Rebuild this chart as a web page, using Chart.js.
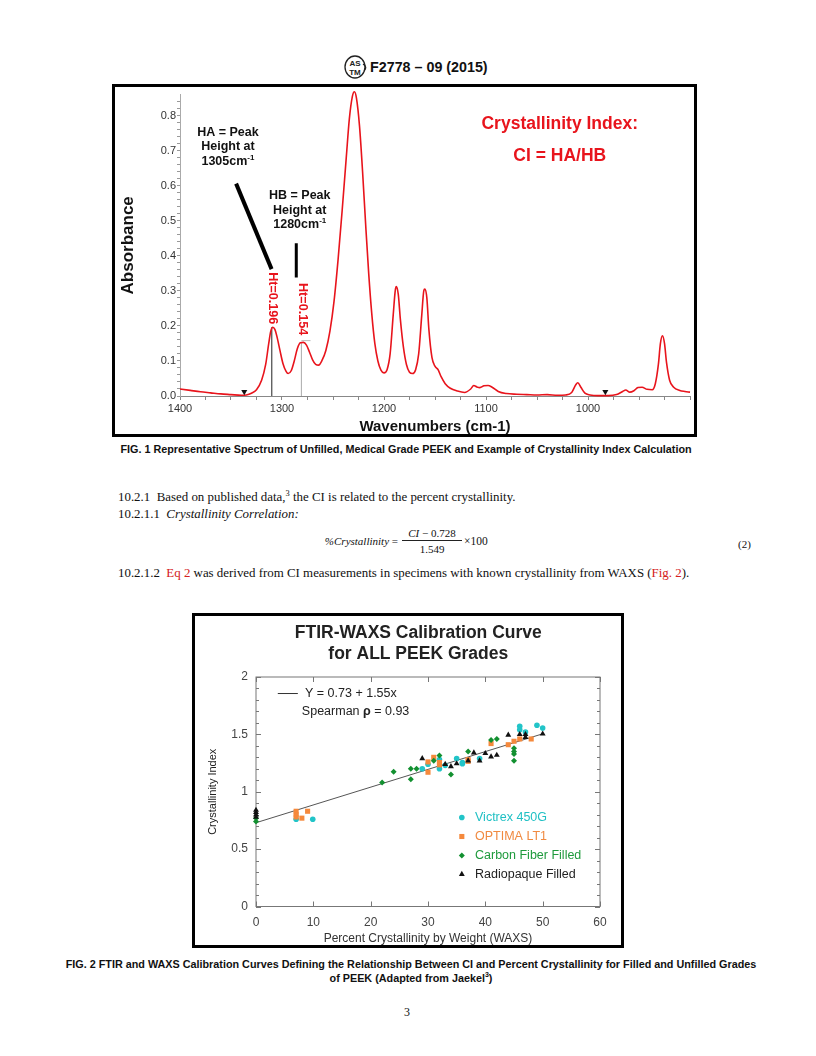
<!DOCTYPE html>
<html>
<head>
<meta charset="utf-8">
<script src="https://cdn.jsdelivr.net/npm/chart.js@4.4.1/dist/chart.umd.min.js"></script>
<style>
body { margin: 0; background: #fff; }
#page { position: relative; width: 816px; height: 1056px; overflow: hidden; background: #fff;
        font-family: "Liberation Serif", "Times New Roman", serif; color: #111; }
.t { position: absolute; white-space: nowrap; line-height: 16px; }
.sans { font-family: "Liberation Sans", Arial, sans-serif; }
.cap { font-family: "Liberation Sans", Arial, sans-serif; font-weight: bold; font-size: 10.8px; text-align: center; }
.frame { position: absolute; border: 3px solid #000; }
.frame canvas { display: block; }
.red { color: #d42020; }
sup { font-size: 65%; line-height: 0; }
</style>
</head>
<body>
<div id="page">
  <svg class="t" style="left:343px;top:55px" width="26" height="24" viewBox="0 0 26 24">
    <ellipse cx="12" cy="12" rx="10" ry="11" fill="none" stroke="#222" stroke-width="1.3"/>
    <text x="12" y="11" font-family="Liberation Sans" font-weight="bold" font-size="8" text-anchor="middle" fill="#222">AS</text>
    <text x="12" y="20" font-family="Liberation Sans" font-weight="bold" font-size="8" text-anchor="middle" fill="#222">TM</text>
    <path d="M20 9 Q25 12 21 16" fill="none" stroke="#222" stroke-width="1.2"/>
  </svg>
  <div class="t sans" style="left:370px;top:59px;font-weight:bold;font-size:14.3px;">F2778 – 09 (2015)</div>

  <div class="frame" style="left:112px;top:84px;width:579px;height:347px;">
    <canvas id="spectrum" width="579" height="347"></canvas>
  </div>
  <div class="t cap" style="left:0;width:812px;top:441px;">FIG. 1 Representative Spectrum of Unfilled, Medical Grade PEEK and Example of Crystallinity Index Calculation</div>

  <div class="t" style="left:118px;top:489px;font-size:12.9px;">10.2.1&nbsp;&nbsp;Based on published data,<sup>3</sup> the CI is related to the percent crystallinity.</div>
  <div class="t" style="left:118px;top:506px;font-size:12.9px;">10.2.1.1&nbsp;&nbsp;<i>Crystallinity Correlation:</i></div>
  <div class="t" style="left:300px;width:98px;text-align:right;top:533px;font-size:11px;"><i>%Crystallinity</i> =</div>
  <div class="t" style="left:402px;width:60px;text-align:center;top:525px;font-size:11px;"><i>CI</i> − 0.728</div>
  <div style="position:absolute;left:402px;top:540px;width:60px;height:0;border-top:1px solid #222;"></div>
  <div class="t" style="left:402px;width:60px;text-align:center;top:541px;font-size:11px;">1.549</div>
  <div class="t" style="left:464px;top:533px;font-size:11.5px;">×100</div>
  <div class="t" style="left:738px;top:536px;font-size:11px;">(2)</div>
  <div class="t" style="left:118px;top:565px;font-size:12.9px;">10.2.1.2&nbsp;&nbsp;<span class="red">Eq 2</span> was derived from CI measurements in specimens with known crystallinity from WAXS (<span class="red">Fig. 2</span>).</div>

  <div class="frame" style="left:192px;top:613px;width:426px;height:329px;">
    <canvas id="calib" width="426" height="329"></canvas>
  </div>
  <div class="t cap" style="left:0;width:822px;top:957px;line-height:14px;">FIG. 2 FTIR and WAXS Calibration Curves Defining the Relationship Between CI and Percent Crystallinity for Filled and Unfilled Grades<br>of PEEK (Adapted from Jaekel<sup>3</sup>)</div>
  <div class="t" style="left:404px;top:1004px;font-size:12px;">3</div>
</div>

<script>
// ---------- Fig. 1: FTIR spectrum ----------
const wavenumbers = [
  1400, 1390, 1380, 1370, 1360, 1350, 1340, 1335, 1330, 1325, 1320, 1316, 1313, 1311, 1309, 1307, 1305,
  1302, 1299, 1296, 1294, 1291, 1288, 1285, 1282, 1279, 1276, 1273, 1270, 1267, 1264, 1261, 1257, 1253,
  1249, 1245, 1241, 1237, 1234, 1231, 1229, 1227, 1224, 1221, 1218, 1215, 1212, 1209, 1206, 1203, 1200,
  1197, 1194, 1191, 1189, 1188, 1186, 1184, 1181, 1178, 1175, 1172, 1169, 1166, 1163, 1161, 1160, 1158,
  1156, 1153, 1150, 1147, 1144, 1140, 1135, 1128, 1121, 1115, 1112, 1109, 1106, 1102, 1098, 1094, 1088,
  1080, 1070, 1060, 1050, 1040, 1030, 1022, 1016, 1012, 1010, 1007, 1003, 998, 990, 980, 972, 966, 963,
  959, 955, 951, 947, 942, 937, 934, 931, 929, 927, 925, 923, 920, 916, 910, 905, 900
];
const absorbance = [
  0.020, 0.016, 0.012, 0.009, 0.006, 0.004, 0.002, 0.003, 0.008, 0.018, 0.045, 0.090, 0.150, 0.185, 0.196, 0.190, 0.170,
  0.130, 0.092, 0.070, 0.064, 0.072, 0.100, 0.135, 0.152, 0.153, 0.145, 0.125, 0.103, 0.090, 0.088, 0.100, 0.130, 0.185,
  0.270, 0.390, 0.530, 0.680, 0.790, 0.855, 0.868, 0.850, 0.770, 0.640, 0.490, 0.350, 0.235, 0.150, 0.100, 0.074, 0.066,
  0.075, 0.120, 0.230, 0.300, 0.312, 0.290, 0.220, 0.140, 0.090, 0.068, 0.064, 0.075, 0.120, 0.230, 0.300, 0.305, 0.280,
  0.190, 0.110, 0.085, 0.075, 0.055, 0.035, 0.022, 0.014, 0.010, 0.020, 0.030, 0.026, 0.024, 0.029, 0.030, 0.025, 0.013,
  0.007, 0.005, 0.004, 0.003, 0.004, 0.002, 0.003, 0.010, 0.032, 0.038, 0.025, 0.008, 0.003, 0.001, 0.001, 0.004, 0.013, 0.017,
  0.011, 0.015, 0.024, 0.025, 0.019, 0.018, 0.035, 0.090, 0.150, 0.172, 0.150, 0.095, 0.045, 0.025, 0.016, 0.013, 0.011
];
const baselineMarkWn = [1337, 983];
const baselineMarkAbs = [0.012, 0.012];
const haPeak = { wn: 1310, abs: 0.196 };
const hbPeak = { wn: 1281, abs: 0.154 };
const xTickLabels1 = [1400, 1300, 1200, 1100, 1000];
const yTickLabels1 = [0, 0.1, 0.2, 0.3, 0.4, 0.5, 0.6, 0.7, 0.8];

// annotation anchors, in data units
const haPointer = [{ x: 1345, y: 0.606 }, { x: 1310.2, y: 0.362 }];
const hbPointer = [{ x: 1286, y: 0.436 }, { x: 1286, y: 0.338 }];
const haText = { x: 1353, y: [0.753, 0.711, 0.669], lines: ['HA = Peak', 'Height at', '1305cm'] };
const hbText = { x: 1282.6, y: [0.573, 0.530, 0.488], lines: ['HB = Peak', 'Height at', '1280cm'] };
const htLabels = [
  { x: 1309.2, y: 0.279, text: 'Ht=0.196' },
  { x: 1280.2, y: 0.248, text: 'Ht=0.154' }
];
const ciText = { x: 1027.7, y: [0.776, 0.685], lines: ['Crystallinity Index:', 'CI = HA/HB'] };

const RED = '#e8141c';
const SANS = '"Liberation Sans", Arial, sans-serif';

const spectrumNotes = {
  id: 'spectrumNotes',
  afterDatasetsDraw(chart) {
    const { ctx, scales: { x, y } } = chart;
    const px = v => x.getPixelForValue(v), py = v => y.getPixelForValue(v);
    ctx.save();
    ctx.textBaseline = 'middle';

    // black labels with a superscript on the last line
    [haText, hbText].forEach(block => {
      block.lines.forEach((line, i) => {
        ctx.font = 'bold 12.5px ' + SANS;
        ctx.fillStyle = '#111';
        if (i === 2) {
          const w = ctx.measureText(line).width;
          ctx.font = 'bold 8px ' + SANS;
          const ws = ctx.measureText('-1').width;
          const left = px(block.x) - (w + ws) / 2;
          ctx.textAlign = 'left';
          ctx.font = 'bold 12.5px ' + SANS;
          ctx.fillText(line, left, py(block.y[i]));
          ctx.font = 'bold 8px ' + SANS;
          ctx.fillText('-1', left + w, py(block.y[i]) - 4);
        } else {
          ctx.textAlign = 'center';
          ctx.fillText(line, px(block.x), py(block.y[i]));
        }
      });
    });

    // rotated red peak heights
    ctx.font = 'bold 12.6px ' + SANS;
    ctx.fillStyle = RED;
    ctx.textAlign = 'center';
    htLabels.forEach(l => {
      ctx.save();
      ctx.translate(px(l.x), py(l.y));
      ctx.rotate(Math.PI / 2);
      ctx.fillText(l.text, 0, 0);
      ctx.restore();
    });

    ctx.font = 'bold 17.5px ' + SANS;
    ciText.lines.forEach((line, i) => ctx.fillText(line, px(ciText.x), py(ciText.y[i])));
    ctx.restore();
  }
};

const lineSet = (data, color, width) => ({
  data, showLine: true, borderColor: color, borderWidth: width, pointRadius: 0, fill: false, clip: false
});

new Chart(document.getElementById('spectrum'), {
  type: 'scatter',
  data: {
    datasets: [
      {
        data: baselineMarkWn.map((wn, i) => ({ x: wn, y: baselineMarkAbs[i] })),
        pointStyle: 'triangle', rotation: 180, radius: 3.5,
        backgroundColor: '#111', borderColor: '#111', borderWidth: 0, clip: false
      },
      lineSet(haPointer, '#000', 4),
      lineSet(hbPointer, '#000', 3),
      {
        data: wavenumbers.map((wn, i) => ({ x: wn, y: absorbance[i] })),
        showLine: true, borderColor: RED, borderWidth: 1.6, pointRadius: 0,
        cubicInterpolationMode: 'monotone', clip: false
      },
      lineSet([{ x: haPeak.wn, y: 0 }, { x: haPeak.wn, y: haPeak.abs }], '#222', 1),
      lineSet([{ x: hbPeak.wn, y: 0 }, { x: hbPeak.wn, y: hbPeak.abs }], '#aaa', 1),
      lineSet([{ x: hbPeak.wn, y: hbPeak.abs + 0.004 }, { x: hbPeak.wn - 9, y: hbPeak.abs + 0.004 }], '#bbb', 1)
    ]
  },
  options: {
    responsive: false,
    animation: false,
    layout: { padding: { top: 1, right: 0, left: 0, bottom: 0 } },
    plugins: { legend: { display: false }, tooltip: { enabled: false } },
    scales: {
      x: {
        type: 'linear', min: 900, max: 1400, reverse: true,
        afterBuildTicks: s => {
          const t = [];
          for (let v = 900; v <= 1400; v += 25) t.push({ value: v });
          s.ticks = t;
        },
        afterFit: s => { s.height = 38; },
        ticks: {
          autoSkip: false, maxRotation: 0, padding: 2, color: '#333',
          font: { family: SANS, size: 11 },
          callback: v => xTickLabels1.includes(v) ? String(v) : ''
        },
        grid: { drawOnChartArea: false, tickLength: 4, color: '#888' },
        border: { color: '#888' },
        title: {
          display: true, text: 'Wavenumbers (cm-1)', color: '#111',
          font: { family: SANS, size: 15, weight: 'bold', lineHeight: 1 }, padding: 0
        }
      },
      y: {
        min: 0, max: 0.86,
        afterBuildTicks: s => {
          const t = [];
          for (let i = 0; i <= 42; i++) t.push({ value: Math.round(i * 2) / 100 });
          s.ticks = t;
        },
        afterFit: s => { s.width = 65; },
        ticks: {
          autoSkip: false, padding: 1, color: '#333',
          font: { family: SANS, size: 11 },
          callback: v => yTickLabels1.some(t => Math.abs(t - v) < 1e-6) ? v.toFixed(1) : ''
        },
        grid: { drawOnChartArea: false, tickLength: 3, color: '#999' },
        border: { color: '#aaa', dash: [1, 2] },
        title: {
          display: true, text: 'Absorbance', color: '#111',
          font: { family: SANS, size: 17, weight: 'bold', lineHeight: 1.2 }, padding: { top: 3, bottom: 0 }
        }
      }
    }
  },
  plugins: [spectrumNotes]
});

// ---------- Fig. 2: FTIR-WAXS calibration ----------
const victrexX = [7, 9.9, 29, 30, 32, 32, 33, 35, 36, 36, 39, 46, 46, 47, 49, 50];
const victrexY = [0.76, 0.76, 1.20, 1.24, 1.28, 1.20, 1.23, 1.29, 1.255, 1.245, 1.29, 1.57, 1.54, 1.52, 1.58, 1.555];
const optimaX = [7, 7, 7, 8, 9, 30, 30, 31, 32, 32, 37, 37, 41, 44, 45, 46, 48];
const optimaY = [0.83, 0.80, 0.78, 0.77, 0.83, 1.26, 1.17, 1.30, 1.255, 1.235, 1.28, 1.265, 1.42, 1.41, 1.44, 1.46, 1.46];
const carbonX = [0, 0, 22, 24, 27, 27, 28, 31, 32, 34, 37, 41, 42, 45, 45, 45, 45];
const carbonY = [0.77, 0.74, 1.08, 1.175, 1.20, 1.11, 1.20, 1.27, 1.315, 1.15, 1.35, 1.45, 1.46, 1.38, 1.35, 1.33, 1.27];
const radioX = [0, 0, 0, 0, 29, 33, 34, 35, 37, 38, 39, 40, 41, 42, 44, 46, 47, 47, 50];
const radioY = [0.84, 0.82, 0.80, 0.78, 1.29, 1.24, 1.22, 1.245, 1.27, 1.34, 1.27, 1.335, 1.305, 1.32, 1.495, 1.50, 1.50, 1.475, 1.505];
const fitX = [0, 50];
const fitY = [0.73, 1.505];
const xTicks2 = [0, 10, 20, 30, 40, 50, 60];
const yTickLabels2 = [0, 0.5, 1, 1.5, 2];

const series2 = [
  { name: 'Victrex 450G', xs: victrexX, ys: victrexY, style: 'circle', r: 2.8, fill: '#22c4c8', text: '#20c0c4' },
  { name: 'OPTIMA LT1', xs: optimaX, ys: optimaY, style: 'rect', r: 3.6, fill: '#f5893c', text: '#f08a40' },
  { name: 'Carbon Fiber Filled', xs: carbonX, ys: carbonY, style: 'rectRot', r: 3, fill: '#129030', text: '#1e9a3c' },
  { name: 'Radiopaque Filled', xs: radioX, ys: radioY, style: 'triangle', r: 3.4, fill: '#111', text: '#222' }
];

// annotation anchors, in data units
const titleAt = { x: 28.3, y: [2.38, 2.196], lines: ['FTIR-WAXS Calibration Curve', 'for ALL PEEK Grades'] };
const eqSample = [3.8, 7.3, 1.856];
const eqLines = [{ x: 8.55, y: 1.856, text: 'Y = 0.73 + 1.55x' }];
const legendMarkX = 35.9, legendTextX = 38.2;
const legendY = [0.776, 0.610, 0.444, 0.281];

const calibNotes = {
  id: 'calibNotes',
  beforeDatasetsDraw(chart) {
    const { ctx, chartArea: a, scales: { x, y } } = chart;
    ctx.save();
    ctx.strokeStyle = '#777';
    ctx.lineWidth = 1;
    ctx.strokeRect(a.left, a.top, a.right - a.left, a.bottom - a.top);
    ctx.beginPath();
    for (let i = 0; i <= 20; i++) {
      const yy = Math.round(y.getPixelForValue(i / 10)) + 0.5;
      const len = i % 5 === 0 ? 5 : 3;
      ctx.moveTo(a.left, yy); ctx.lineTo(a.left + len, yy);
      ctx.moveTo(a.right, yy); ctx.lineTo(a.right - len, yy);
    }
    xTicks2.forEach(v => {
      const xx = Math.round(x.getPixelForValue(v)) + 0.5;
      ctx.moveTo(xx, a.bottom); ctx.lineTo(xx, a.bottom - 5);
      ctx.moveTo(xx, a.top); ctx.lineTo(xx, a.top + 5);
    });
    ctx.stroke();
    ctx.restore();
  },
  afterDatasetsDraw(chart) {
    const { ctx, scales: { x, y } } = chart;
    const px = v => x.getPixelForValue(v), py = v => y.getPixelForValue(v);
    ctx.save();
    ctx.textBaseline = 'middle';
    ctx.textAlign = 'center';
    ctx.fillStyle = '#222';
    ctx.font = 'bold 17.5px ' + SANS;
    titleAt.lines.forEach((l, i) => ctx.fillText(l, px(titleAt.x), py(titleAt.y[i])));

    ctx.strokeStyle = '#333';
    ctx.lineWidth = 1;
    ctx.beginPath();
    ctx.moveTo(px(eqSample[0]), py(eqSample[2]));
    ctx.lineTo(px(eqSample[1]), py(eqSample[2]));
    ctx.stroke();
    ctx.textAlign = 'left';
    ctx.font = '12.5px ' + SANS;
    eqLines.forEach(l => ctx.fillText(l.text, px(l.x), py(l.y)));
    // Spearman line with bold rho
    let sx = px(8.0);
    const sy = py(1.70);
    ['Spearman ', 'ρ', ' = 0.93'].forEach((part, i) => {
      ctx.font = (i === 1 ? 'bold ' : '') + '12.5px ' + SANS;
      ctx.fillText(part, sx, sy);
      sx += ctx.measureText(part).width;
    });

    ctx.font = '12.5px ' + SANS;
    series2.forEach((s, i) => {
      ctx.fillStyle = s.fill;
      ctx.strokeStyle = s.fill;
      Chart.helpers.drawPoint(ctx, { pointStyle: s.style, radius: s.r, rotation: 0, borderWidth: 0 },
        px(legendMarkX), py(legendY[i]));
      ctx.fillStyle = s.text;
      ctx.fillText(s.name, px(legendTextX), py(legendY[i]));
    });
    ctx.restore();
  }
};

const pointSets = series2.map(s => ({
  data: s.xs.map((v, i) => ({ x: v, y: s.ys[i] })),
  pointStyle: s.style, radius: s.r, backgroundColor: s.fill, borderColor: s.fill, borderWidth: 0, clip: false
})).reverse();

new Chart(document.getElementById('calib'), {
  type: 'scatter',
  data: {
    datasets: pointSets.concat([{
      data: fitX.map((v, i) => ({ x: v, y: fitY[i] })),
      showLine: true, borderColor: '#555', borderWidth: 1, pointRadius: 0
    }])
  },
  options: {
    responsive: false,
    animation: false,
    layout: { padding: { top: 61, right: 21, left: 0, bottom: 0 } },
    plugins: { legend: { display: false }, tooltip: { enabled: false } },
    scales: {
      x: {
        min: 0, max: 60,
        afterBuildTicks: s => { s.ticks = xTicks2.map(v => ({ value: v })); },
        afterFit: s => { s.height = 38.5; },
        ticks: { autoSkip: false, maxRotation: 0, padding: 9, color: '#444', font: { family: SANS, size: 12 },
                 callback: v => String(v) },
        grid: { display: false, drawTicks: false },
        border: { display: false },
        title: {
          display: true, text: 'Percent Crystallinity by Weight (WAXS)', color: '#333',
          font: { family: SANS, size: 12, lineHeight: 1 }, padding: 0
        }
      },
      y: {
        min: 0, max: 2,
        afterBuildTicks: s => { s.ticks = yTickLabels2.map(v => ({ value: v })); },
        afterFit: s => { s.width = 61; },
        ticks: { autoSkip: false, padding: 8, color: '#444', font: { family: SANS, size: 12 },
                 callback: v => String(v) },
        grid: { display: false, drawTicks: false },
        border: { display: false },
        title: {
          display: true, text: 'Crystallinity Index', color: '#222',
          font: { family: SANS, size: 11, lineHeight: 1.2 }, padding: { top: 11, bottom: 0 }
        }
      }
    }
  },
  plugins: [calibNotes]
});
</script>
</body>
</html>
